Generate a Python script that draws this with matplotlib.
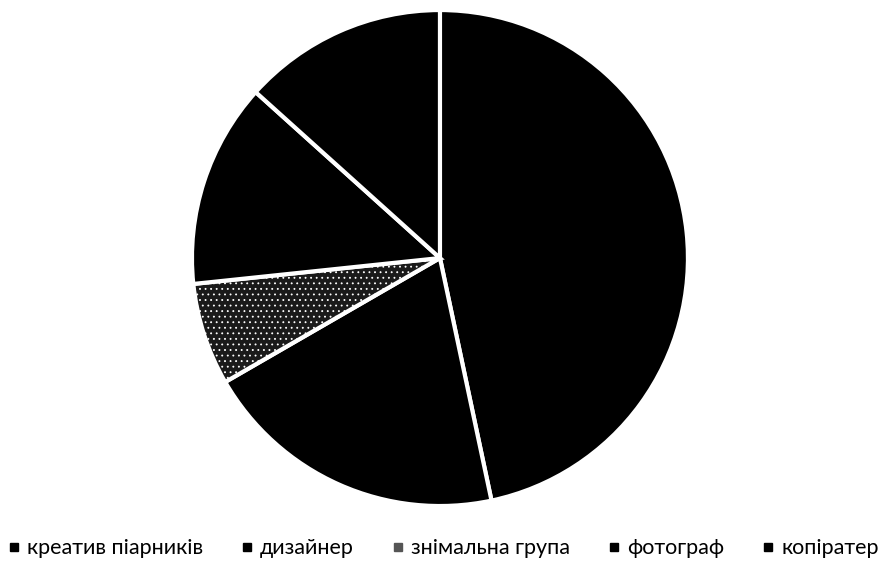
import matplotlib
matplotlib.use("Agg")
import matplotlib.pyplot as plt
from matplotlib.lines import Line2D

categories = ["креатив піарників", "дизайнер", "знімальна група", "фотограф", "копіратер"]
counts = [7, 3, 1, 2, 2]
colors = ["#000000", "#000000", "#1a1a1a", "#000000", "#000000"]

plt.rcParams["font.family"] = ["Lato", "DejaVu Sans"]
plt.rcParams["hatch.color"] = "#7a7a7a"
plt.rcParams["hatch.linewidth"] = 0.6

fig = plt.figure(figsize=(8.83, 5.71), dpi=100)
ax = fig.add_axes([0.2174, 0.1138, 0.5617, 0.8686])

wedges, _ = ax.pie(counts, colors=colors, startangle=90, counterclock=False,
                   radius=1.0,
                   wedgeprops=dict(edgecolor="white", linewidth=3))
# speckled fill on the film-crew slice
wedges[2].set_hatch("...")
ax.set_xlim(-1, 1)
ax.set_ylim(-1, 1)
ax.set_aspect("equal")
ax.axis("off")

marker_colors = ["#000000", "#000000", "#555555", "#000000", "#000000"]
handles = [Line2D([], [], marker="s", linestyle="none", markersize=6,
                  markerfacecolor=c, markeredgecolor=c) for c in marker_colors]
fig.legend(handles, categories, loc="center", bbox_to_anchor=(0.502, 0.04),
           ncol=5, frameon=False, handlelength=0.55,
           handletextpad=0.35, columnspacing=1.75,
           prop=dict(size=15.5))

fig.savefig("out.png", dpi=100, facecolor="white")
